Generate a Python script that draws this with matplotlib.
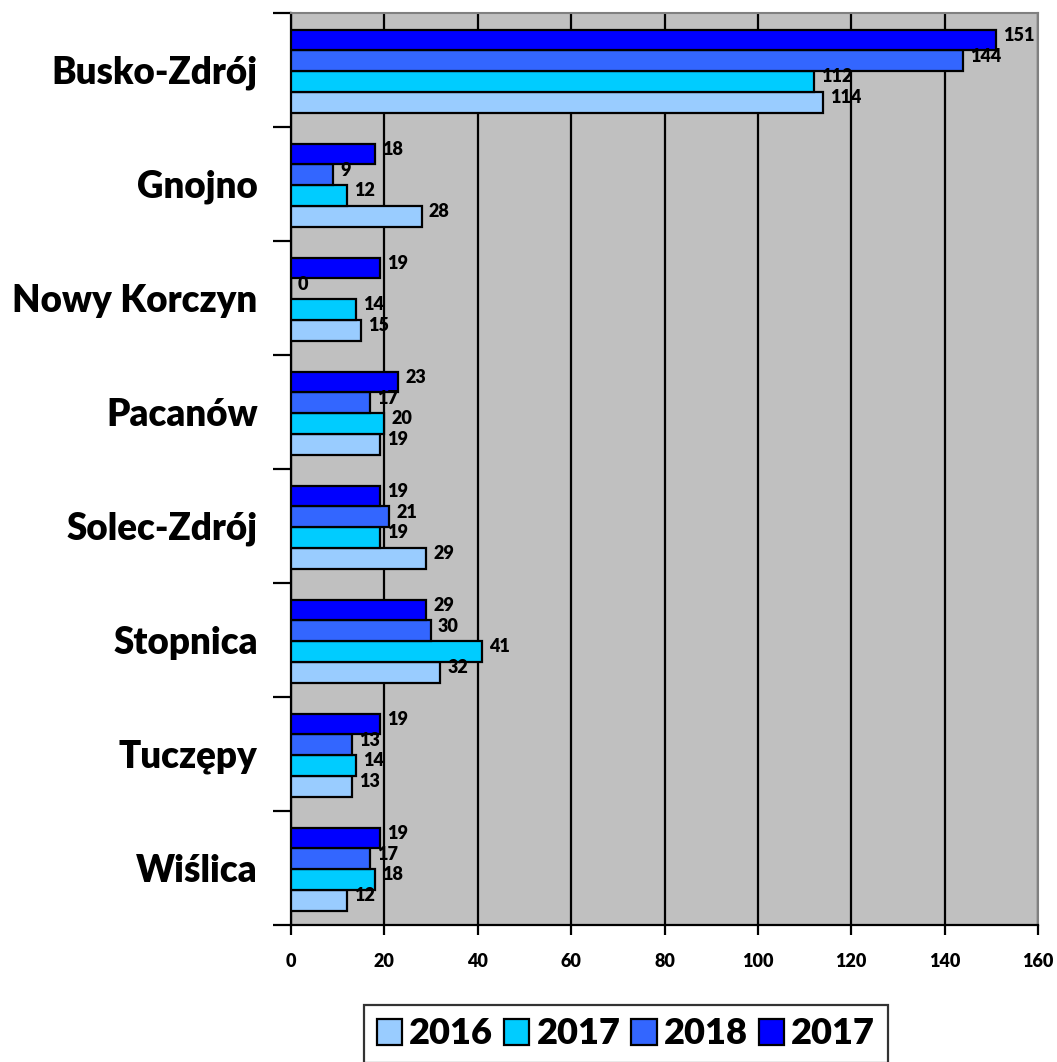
import numpy as np
import matplotlib.pyplot as plt

plt.rcParams['font.family'] = ['Lato', 'DejaVu Sans']
plt.rcParams['font.weight'] = 'heavy'

gminy = ['Busko-Zdrój', 'Gnojno', 'Nowy Korczyn', 'Pacanów',
         'Solec-Zdrój', 'Stopnica', 'Tuczępy', 'Wiślica']
series_names = ['2016', '2017', '2018', '2017']
v2016 = [114, 28, 15, 19, 29, 32, 13, 12]
v2017 = [112, 12, 14, 20, 19, 41, 14, 18]
v2018 = [144, 9, 0, 17, 21, 30, 13, 17]
v2017b = [151, 18, 19, 23, 19, 29, 19, 19]
colors = ['#99CCFF', '#00CCFF', '#3366FF', '#0000FF']

fig = plt.figure(figsize=(10.57, 10.62), dpi=100)
ax = fig.add_axes([291/1057, 1 - 925/1062, (1038-291)/1057, (925-13)/1062])
ax.set_facecolor('#C0C0C0')

y = np.arange(len(gminy))
h = 0.182
for i, (vals, name) in enumerate(zip([v2016, v2017, v2018, v2017b], series_names)):
    pos = y + (1.5 - i) * h + 0.01
    ax.barh(pos, vals, height=h, color=colors[i], edgecolor='black',
            linewidth=1.6, label=name, zorder=3)
    for p, v in zip(pos, vals):
        ax.text(v + 1.5, p - 0.04, str(v), fontsize=13, fontweight='heavy',
                va='center', ha='left', zorder=4)

ax.set_xlim(0, 160)
ax.set_ylim(len(gminy) - 0.5, -0.5)
ax.set_xticks(np.arange(0, 161, 20))
ax.tick_params(axis='x', labelsize=13, length=7, width=1.6, pad=13, direction='out')
for t in ax.get_xticklabels():
    t.set_fontweight('heavy')
ax.set_yticks(y)
ax.set_yticklabels(gminy, fontsize=26.5, fontweight='heavy')
ax.tick_params(axis='y', length=0, pad=24)
ax.set_yticks(np.arange(-0.5, len(gminy)), minor=True)
ax.tick_params(axis='y', which='minor', length=13, width=1.6, direction='out')
ax.xaxis.grid(True, color='black', linewidth=1.6, zorder=1)
ax.set_axisbelow(True)
for s in ['top', 'right']:
    ax.spines[s].set_color('#808080')
    ax.spines[s].set_linewidth(1.5)
for s in ['left', 'bottom']:
    ax.spines[s].set_linewidth(1.6)

leg = fig.legend(loc='center', bbox_to_anchor=(626/1057, 1 - 1034/1062), ncol=4,
                 fontsize=26, frameon=True, fancybox=False, edgecolor='black',
                 handlelength=0.7, handleheight=0.7, handletextpad=0.2,
                 columnspacing=0.3, borderpad=0.35, borderaxespad=0.2)
leg.get_frame().set_linewidth(1.6)
for t in leg.get_texts():
    t.set_fontweight('heavy')

fig.savefig('out.png', dpi=100)
